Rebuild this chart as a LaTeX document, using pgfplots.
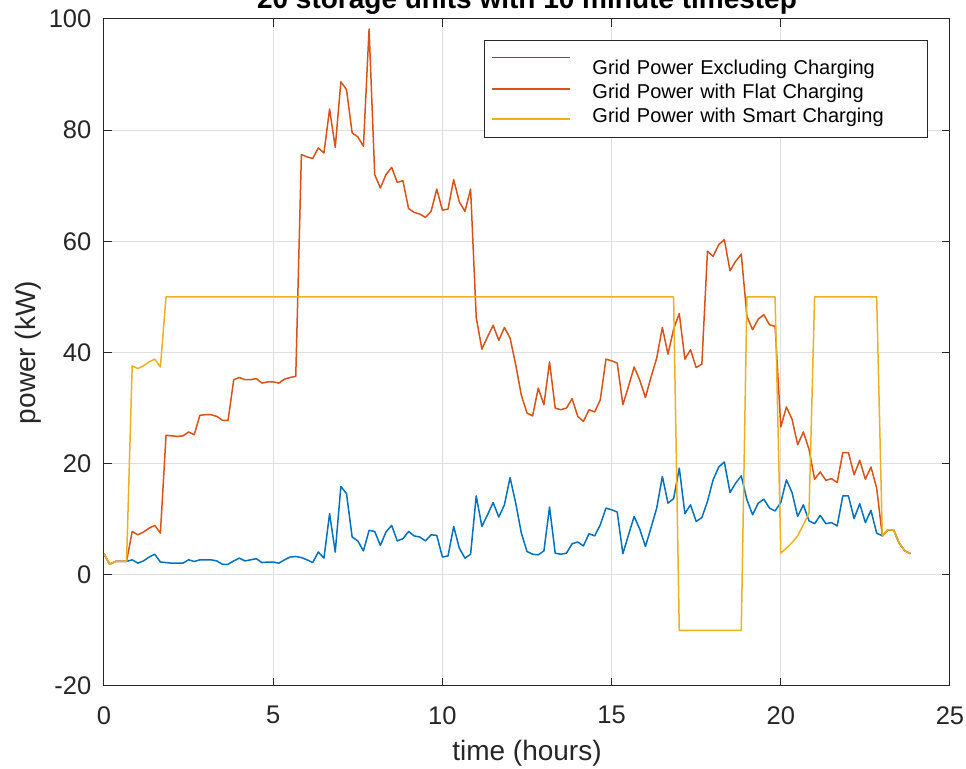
\documentclass[border=0pt]{standalone}
\usepackage{fontspec}
\setmainfont{Liberation Sans}
\usepackage{pgfplots}
\usepackage{pgfplotstable}
\pgfplotsset{compat=1.18}
\definecolor{c1}{RGB}{0,114,189}
\definecolor{c2}{RGB}{217,83,25}
\definecolor{c3}{RGB}{237,177,32}
\definecolor{axgray}{RGB}{38,38,38}
\definecolor{gridgray}{RGB}{223,223,223}

% i = 10-minute step index (time = i/6 hours); b = excluding charging; o = flat charging
\pgfplotstableread{
i b o
0 3.8 3.8
1 1.9 1.9
2 2.4 2.4
3 2.4 2.4
4 2.4 2.4
5 2.7 7.8
6 2.1 7.2
7 2.5 7.7
8 3.2 8.4
9 3.7 8.9
10 2.3 7.5
11 2.2 25.1
12 2.1 25.0
13 2.1 24.9
14 2.1 25.0
15 2.7 25.7
16 2.4 25.2
17 2.7 28.7
18 2.7 28.8
19 2.7 28.8
20 2.5 28.5
21 1.9 27.8
22 1.9 27.8
23 2.5 35.1
24 3.0 35.5
25 2.5 35.1
26 2.7 35.1
27 2.9 35.3
28 2.2 34.5
29 2.3 34.7
30 2.3 34.7
31 2.1 34.5
32 2.7 35.2
33 3.2 35.5
34 3.3 35.7
35 3.1 75.6
36 2.7 75.2
37 2.2 74.9
38 4.1 76.8
39 3.0 75.9
40 11.0 83.8
41 4.1 76.9
42 15.9 88.7
43 14.6 87.3
44 6.8 79.5
45 6.1 78.8
46 4.3 77.1
47 8.0 98.2
48 7.8 72.0
49 5.3 69.6
50 7.7 72.0
51 8.9 73.3
52 6.1 70.6
53 6.5 70.9
54 7.8 65.9
55 7.0 65.2
56 6.8 64.9
57 6.1 64.3
58 7.2 65.4
59 7.1 69.4
60 3.2 65.6
61 3.4 65.8
62 8.7 71.1
63 4.8 67.1
64 3.0 65.4
65 3.7 69.4
66 14.2 46.3
67 8.7 40.6
68 10.8 42.8
69 13.0 44.9
70 10.4 42.2
71 12.6 44.5
72 17.5 42.6
73 12.9 37.8
74 7.5 32.3
75 4.2 29.1
76 3.7 28.6
77 3.6 33.6
78 4.3 30.6
79 12.2 38.3
80 3.9 30.0
81 3.7 29.7
82 3.9 30.0
83 5.6 31.7
84 5.9 28.5
85 5.2 27.6
86 7.4 29.7
87 7.0 29.3
88 9.0 31.5
89 12.0 38.8
90 11.7 38.5
91 11.3 38.1
92 3.8 30.6
93 7.2 33.9
94 10.5 37.4
95 8.2 35.0
96 5.1 31.9
97 8.5 35.6
98 12.0 39.0
99 17.7 44.5
100 12.9 39.7
101 13.7 44.2
102 19.2 47.0
103 11.0 38.8
104 12.6 40.5
105 9.6 37.3
106 10.3 37.9
107 13.2 58.2
108 17.1 57.3
109 19.4 59.4
110 20.3 60.3
111 14.8 54.7
112 16.5 56.4
113 17.8 57.7
114 13.5 46.5
115 10.8 44.1
116 12.9 46.0
117 13.6 46.8
118 12.0 45.0
119 11.5 44.7
120 13.0 26.6
121 17.1 30.2
122 14.8 28.0
123 10.5 23.4
124 12.6 25.7
125 9.7 22.6
126 9.2 17.2
127 10.7 18.5
128 9.2 17.0
129 9.4 17.3
130 8.8 16.6
131 14.2 22.0
132 14.2 22.0
133 10.1 18.0
134 12.8 20.6
135 9.4 17.2
136 11.6 19.4
137 7.5 15.6
138 7.0 7.0
139 8.1 8.1
140 8.1 8.1
141 5.7 5.7
142 4.3 4.3
143 3.8 3.8
}\gridtab

% smart charging (corner points of the constant stretches)
\pgfplotstableread{
i y
0 3.8
1 1.9
2 2.4
3 2.4
4 2.4
5 37.6
6 37.1
7 37.6
8 38.3
9 38.8
10 37.4
11 50
101 50
102 -10
113 -10
114 50
119 50
120 3.9
121 4.8
122 5.8
123 7.0
124 9.0
125 11.1
126 50
137 50
138 7.0
139 8.1
140 8.1
141 5.7
142 4.3
143 3.8
}\smarttab

\pgfplotsset{
 legA/.style={legend image code/.code={\draw[c1,line width=0.75pt] (0pt,3.7pt) -- (39pt,3.7pt);}},
 legB/.style={legend image code/.code={\draw[c2,line width=0.75pt] (0pt,0pt) -- (39pt,0pt);}},
 legC/.style={legend image code/.code={\draw[c3,line width=0.75pt] (0pt,-3.3pt) -- (39pt,-3.3pt);}},
}

\begin{document}
\begin{tikzpicture}
\begin{axis}[
 scale only axis, width=423pt, height=333.5pt,
 xmin=0, xmax=25, ymin=-20, ymax=100,
 xtick={0,5,...,25}, ytick={-20,0,...,100},
 tick align=inside, tick pos=both, major tick length=4pt,
 axis line style={axgray, line width=0.5pt},
 every tick/.style={axgray, line width=0.5pt},
 grid=major, major grid style={gridgray, line width=0.5pt},
 /pgf/number format/assume math mode=true,
 tick label style={font=\fontsize{12.75}{15}\selectfont, text=axgray},
 xticklabel style={inner sep=0pt, yshift=-10pt},
 yticklabel style={inner sep=0pt, xshift=-6.15pt},
 xlabel={time (hours)}, ylabel={power (kW)},
 every axis x label/.style={at={(axis description cs:0.5,-0.08096)}, anchor=north, inner sep=0pt, font=\fontsize{14}{17}\selectfont, text=axgray},
 every axis y label/.style={at={(axis description cs:-0.07364,0.5)}, rotate=90, anchor=south, inner sep=0pt, font=\fontsize{14}{17}\selectfont, text=axgray},
 title={20 storage units with 10 minute timestep},
 every axis title/.style={at={(axis description cs:0.5,1)}, anchor=base, yshift=5.25pt, inner sep=0pt, font=\bfseries\fontsize{14}{17}\selectfont, text=black},
 legend cell align=left,
 legend style={at={(1,1)}, anchor=north east, xshift=-11pt, yshift=-10.5pt,
   draw=axgray, line width=0.5pt, fill=white, inner xsep=3pt, inner ysep=6.4pt,
   font=\fontsize{10}{12}\selectfont, column sep=11pt, row sep=0pt,
   nodes={inner sep=0pt, text height=10.75pt, text depth=1.1pt, text width=164.5pt, align=left}},
]
\addplot[c1, line width=0.75pt, mark=none, line join=round, legA] table[x expr=\thisrow{i}/6, y=b]{\gridtab};
\addlegendentry{Grid Power Excluding Charging}
\addplot[c2, line width=0.75pt, mark=none, line join=round, legB] table[x expr=\thisrow{i}/6, y=o]{\gridtab};
\addlegendentry{Grid Power with Flat Charging}
\addplot[c3, line width=0.75pt, mark=none, line join=round, legC] table[x expr=\thisrow{i}/6, y=y]{\smarttab};
\addlegendentry{Grid Power with Smart Charging}
\coordinate (sw) at (rel axis cs:0,0);
\end{axis}
\pgfresetboundingbox
\path[use as bounding box] ([shift={(-52pt,-41.5pt)}]sw) rectangle ([shift={(431pt,343pt)}]sw);
\end{tikzpicture}
\end{document}
